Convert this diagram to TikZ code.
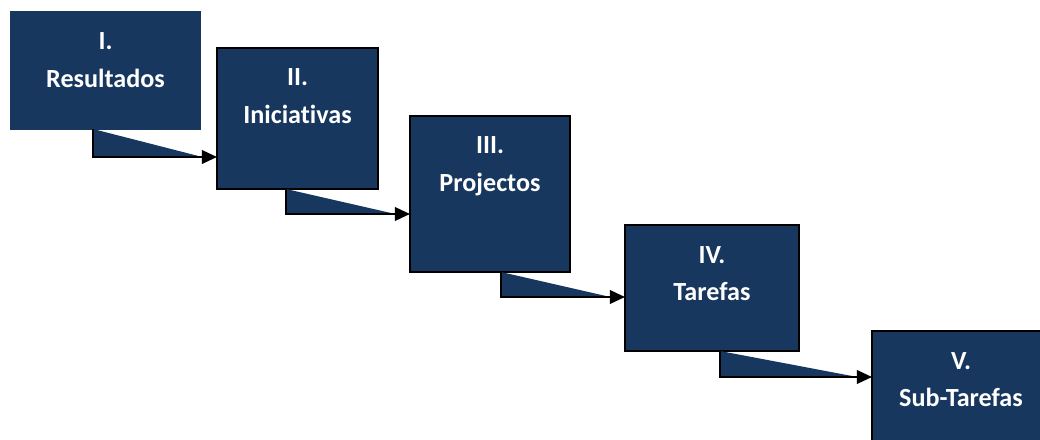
\documentclass[tikz,border=0pt]{standalone}
\usepackage{fontspec}
\setmainfont[Ligatures=NoCommon]{Carlito}
\usepackage{tikz}
\usetikzlibrary{arrows.meta,positioning}
\definecolor{boxblue}{RGB}{23,55,94}

\begin{document}
\begin{tikzpicture}[node distance=0.8cm]
	\tikzstyle{stage}
	  =[draw, line width=0.8pt, fill=boxblue, rectangle, inner sep=0pt,
	  outer sep=0pt, align=center, text=white,
	  font=\fontsize{18.6}{27}\selectfont\bfseries, text height=0.95cm]
	\tikzstyle{link}
	  =[draw, line width=1.6pt, fill=boxblue,
	  -{Triangle[length=0.38cm, width=0.34cm]}]

	\useasboundingbox (0,0) rectangle (26,-11);

	\node[stage, draw=boxblue, text width=4.725cm, text depth=1.975cm,
	  anchor=north west] (res)
	  at (0.275,-0.3) {I.\\Resultados};
	\node[stage, text width=4.025cm, text depth=2.575cm] (ini)
	  [below right=0.9cm and 0.425cm of res.north east] {II.\\Iniciativas};
	\node[stage, text width=4cm, text depth=2.95cm] (proj)
	  [below right=1.7cm and 0.8cm of ini.north east] {III.\\Projectos};
	\node[stage, text width=4.35cm, text depth=2.2cm] (taref)
	  [below right=2.725cm and 1.375cm of proj.north east] {IV.\\Tarefas};
	\node[stage, text width=4.45cm, text depth=2.6cm] (sub)
	  [below right=2.65cm and 1.825cm of taref.north east] {V.\\Sub-Tarefas};

	% elbow links
	\coordinate (s1) at ([xshift=2.05cm]res.south west);
	\coordinate (e1) at ([yshift=-0.7cm]s1);
	\coordinate (s2) at ([xshift=1.725cm]ini.south west);
	\coordinate (e2) at ([yshift=-0.625cm]s2);
	\coordinate (s3) at ([xshift=2.275cm]proj.south west);
	\coordinate (e3) at ([yshift=-0.625cm]s3);
	\coordinate (s4) at ([xshift=2.375cm]taref.south west);
	\coordinate (e4) at ([yshift=-0.65cm]s4);

	\draw[link] (s1) |- (ini.west |- e1);
	\draw[link] (s2) |- (proj.west |- e2);
	\draw[link] (s3) |- (taref.west |- e3);
	\draw[link] (s4) |- (sub.west |- e4);
\end{tikzpicture}
\end{document}
